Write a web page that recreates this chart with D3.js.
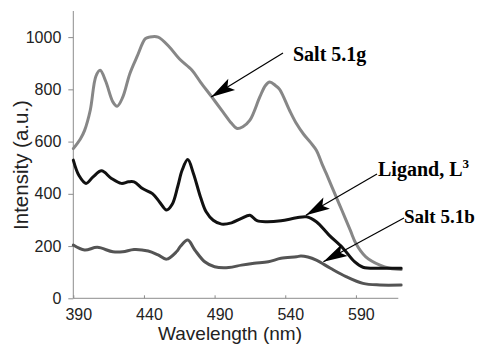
<!DOCTYPE html>
<html>
<head>
<meta charset="utf-8">
<script src="https://cdn.jsdelivr.net/npm/d3@7"></script>
<style>
  html, body { margin: 0; padding: 0; background: #fff; }
  svg { display: block; }
</style>
</head>
<body>
<svg id="chart" width="477" height="345"></svg>
<script>
// Emission spectra: wavelength (nm) and intensity (a.u.) per sample
const salt51gNm  = [390,395,398,402,406,409,413,418,421,425,430,435,441,444,450,458,465,474,480,488,496,502,506,510,515,522,526,529,533,536,543,548,553,558,562,566,569,574,580,586,590,597,607,614,622];
const salt51gVal = [573,610,643,720,850,873,830,752,735,770,860,924,994,1000,1000,962,917,873,828,771,713,670,650,657,682,771,815,828,815,800,720,668,628,596,567,515,478,414,338,261,210,159,127,115,110];

const ligandNm  = [390,394,399,404,410,417,424,429,433,439,446,451,456,460,464,467,471,475,480,484,489,495,502,509,515,520,527,537,548,555,562,571,581,589,595,607,622];
const ligandVal = [529,470,440,465,488,459,440,446,446,420,401,369,338,360,430,490,531,478,388,331,299,284,289,306,318,297,293,297,308,312,293,242,191,140,119,115,115];

const salt51bNm  = [390,398,407,418,425,433,443,450,456,463,466,471,476,483,490,500,509,518,528,537,548,551,556,562,572,583,595,607,622];
const salt51bVal = [204,185,195,178,178,187,181,166,150,178,200,223,185,140,121,118,127,134,140,153,159,162,158,146,115,83,57,51,51];

const xTicks = [390,440,490,540,590];
const yTicks = [0,200,400,600,800,1000];

const svg = d3.select("#chart");

const x = d3.scaleLinear().domain([390, 620]).range([73.3, 398.3]);
const y = d3.scaleLinear().domain([0, 1100]).range([298.3, 11]);

const axisColor = "#8c8c8c";
const sans = "'Liberation Sans', Arial, sans-serif";
const serif = "'Liberation Serif', 'Times New Roman', serif";

// y axis, ticks pointing outward
const yAxis = svg.append("g")
  .attr("transform", `translate(${x(390)},0)`)
  .call(d3.axisLeft(y).tickValues(yTicks).tickSize(5).tickPadding(7).tickFormat(d3.format("d")));
yAxis.select(".domain").attr("stroke", axisColor).attr("d", `M0,${y(0)}V${y(1100)}`);
yAxis.selectAll(".tick line").attr("stroke", axisColor);
yAxis.selectAll(".tick text")
  .attr("font-family", sans).attr("font-size", 16).attr("fill", "#222");

// x axis, short ticks above the line
const xAxis = svg.append("g")
  .attr("transform", `translate(0,${y(0)})`)
  .call(d3.axisBottom(x).tickValues(xTicks).tickSize(-3).tickPadding(10).tickFormat(d3.format("d")));
xAxis.select(".domain").attr("stroke", axisColor).attr("d", `M${x(390)},0H${x(620)}`);
xAxis.selectAll(".tick line").attr("stroke", axisColor);
xAxis.selectAll(".tick text")
  .attr("font-family", sans).attr("font-size", 16).attr("fill", "#222")
  .attr("dx", 5).attr("dy", "0.75em");

// axis titles
svg.append("text")
  .attr("x", 230).attr("y", 340)
  .attr("text-anchor", "middle")
  .attr("font-family", sans).attr("font-size", 19).attr("fill", "#222")
  .text("Wavelength (nm)");

svg.append("text")
  .attr("transform", "translate(28,165) rotate(-90)")
  .attr("text-anchor", "middle")
  .attr("font-family", sans).attr("font-size", 20.5).attr("fill", "#222")
  .text("Intensity (a.u.)");

// spectra
const line = d3.line()
  .x(d => x(d[0]))
  .y(d => y(d[1]))
  .curve(d3.curveCatmullRom.alpha(0.5));

const series = [
  { nm: salt51gNm, val: salt51gVal, color: "#878787" },
  { nm: ligandNm,  val: ligandVal,  color: "#111111" },
  { nm: salt51bNm, val: salt51bVal, color: "#545454" }
];

svg.append("g").selectAll("path")
  .data(series)
  .join("path")
  .attr("fill", "none")
  .attr("stroke", d => d.color)
  .attr("stroke-width", 3)
  .attr("stroke-linejoin", "round")
  .attr("stroke-linecap", "round")
  .attr("d", d => line(d.nm.map((n, i) => [n, d.val[i]])));

// arrowhead marker
svg.append("defs").append("marker")
  .attr("id", "head")
  .attr("markerUnits", "userSpaceOnUse")
  .attr("viewBox", "-26 -8 28 16")
  .attr("refX", 0).attr("refY", 0)
  .attr("markerWidth", 28).attr("markerHeight", 16)
  .attr("orient", "auto")
  .append("path")
  .attr("d", "M0,0L-24,-6.5L-19,0L-24,6.5Z")
  .attr("fill", "#000");

// annotations: label text and pointer to the curve (tip given in data units)
const notes = [
  { text: "Salt 5.1g", size: 20, tx: 293, ty: 61,  sx: 283, sy: 53,  tipNm: 487.6, tipVal: 771 },
  { text: "Ligand, L", sup: "3", size: 20, tx: 378, ty: 176, sx: 377, sy: 174, tipNm: 554.6, tipVal: 318 },
  { text: "Salt 5.1b", size: 19, tx: 404, ty: 223, sx: 404, sy: 218, tipNm: 567, tipVal: 140 }
];

const g = svg.append("g");
notes.forEach(n => {
  g.append("line")
    .attr("x1", n.sx).attr("y1", n.sy)
    .attr("x2", x(n.tipNm)).attr("y2", y(n.tipVal))
    .attr("stroke", "#000").attr("stroke-width", 1.2)
    .attr("marker-end", "url(#head)");
  const t = g.append("text")
    .attr("x", n.tx).attr("y", n.ty)
    .attr("font-family", serif).attr("font-weight", "bold")
    .attr("font-size", n.size).attr("fill", "#000")
    .text(n.text);
  if (n.sup) {
    t.append("tspan").attr("dy", -8).attr("font-size", 13).text(n.sup);
  }
});
</script>
</body>
</html>
